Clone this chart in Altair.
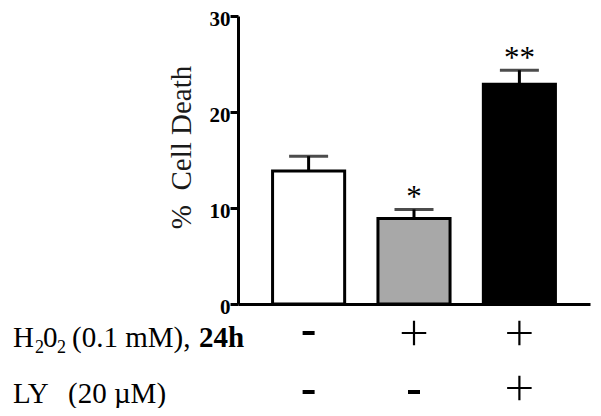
import altair as alt
import pandas as pd

# ---- data ----
groups = ["Control", "H2O2", "H2O2 + LY"]
cell_death = [13.85, 8.9, 22.9]
sem = [1.55, 0.95, 1.45]
fills = ["#ffffff", "#a8a8a8", "#000000"]
stars = ["", "*", "**"]
h2o2_signs = ["-", "+", "+"]
ly_signs = ["-", "-", "+"]
y_ticks = [0, 10, 20, 30]

df = pd.DataFrame({"group": groups, "value": cell_death, "sem": sem,
                   "fill": fills, "star": stars})
df["top"] = df["value"] + df["sem"]

signs = pd.DataFrame({
    "group": groups * 2,
    "row": ["h2o2"] * 3 + ["ly"] * 3,
    "sign": h2o2_signs + ly_signs,
})

SERIF = "Liberation Serif"

x_enc = alt.X("group:N", sort=groups,
              scale=alt.Scale(domain=groups, paddingInner=0.316, paddingOuter=0.328),
              axis=alt.Axis(domainWidth=3, domainColor="black", ticks=False,
                            labels=False, title=None, grid=False))

y_axis = alt.Axis(values=y_ticks, domainWidth=3, domainColor="black",
                  tickWidth=3, tickColor="black", tickSize=8,
                  labelFont=SERIF, labelFontWeight="bold", labelFontSize=21,
                  labelColor="black", labelPadding=0, labelOffset=3, grid=False,
                  title="%\u00a0\u00a0Cell Death", titleFont=SERIF,
                  titleFontSize=29, titleFontWeight="normal", titleColor="#1a1a1a",
                  titleX=-48, titleY=131, titleAngle=270,
                  titleBaseline="alphabetic", titleAlign="center")
y_scale = alt.Scale(domain=[0, 30], nice=False)

base = alt.Chart(df)

bars = base.mark_bar(stroke="black", strokeWidth=3).encode(
    x=x_enc,
    y=alt.Y("value:Q", scale=y_scale, axis=y_axis),
    fill=alt.Fill("fill:N", scale=None),
)

err = base.mark_rule(color="black", strokeWidth=3).encode(
    x=x_enc,
    y=alt.Y("value:Q", scale=y_scale, axis=y_axis),
    y2="top:Q",
)

caps = base.mark_tick(color="black", thickness=3, size=39).encode(
    x=x_enc,
    y=alt.Y("top:Q", scale=y_scale, axis=y_axis),
)

star_txt = base.mark_text(font=SERIF, fontSize=31, baseline="alphabetic",
                          dy=-2, color="black").encode(
    x=x_enc,
    y=alt.Y("top:Q", scale=y_scale, axis=y_axis),
    text="star:N",
)

layers = [bars, err, caps, star_txt]

plus_shape = "M-1,0L1,0M0,-1L0,1"
minus_shape = "M-1,0L1,0"
for row, plus_y, minus_y in [("h2o2", 317, 317), ("ly", 372, 376)]:
    sub = alt.Chart(signs).transform_filter(alt.datum.row == row)
    layers.append(
        sub.transform_filter(alt.datum.sign == "+").mark_point(
            shape=plus_shape, size=600, strokeWidth=2.2, filled=False,
            color="black", opacity=1).encode(x=x_enc, y=alt.value(plus_y))
    )
    layers.append(
        sub.transform_filter(alt.datum.sign == "-").mark_point(
            shape=minus_shape, size=144, strokeWidth=4, filled=False,
            color="black", opacity=1).encode(x=x_enc, y=alt.value(minus_y))
    )

# row labels (left of the sign table)
def label(text, xpx, ypx, size=29, weight="normal"):
    return alt.Chart(pd.DataFrame({"t": [text]})).mark_text(
        font=SERIF, fontSize=size, fontWeight=weight, align="left",
        baseline="alphabetic", color="black").encode(
        text="t:N", x=alt.value(xpx), y=alt.value(ypx))

row1 = 331
row2 = 387
layers += [
    label("H", -225, row1),
    label("2", -203, row1 + 6, size=18),
    label("0", -195, row1),
    label("2", -181, row1 + 6, size=18),
    label("(0.1 mM),", -166, row1),
    label("24h", -39, row1, weight="bold"),
    label("LY", -225, row2),
    label("(20 \u00b5M)", -170, row2),
]

chart = alt.layer(*layers).properties(
    width=352, height=288,
    autosize=alt.AutoSizeParams(type="none"),
    padding={"left": 230, "top": 8, "right": 3, "bottom": 104},
).configure_view(stroke=None)

chart.save("out.html", embed_options={"renderer": "svg", "actions": False})
